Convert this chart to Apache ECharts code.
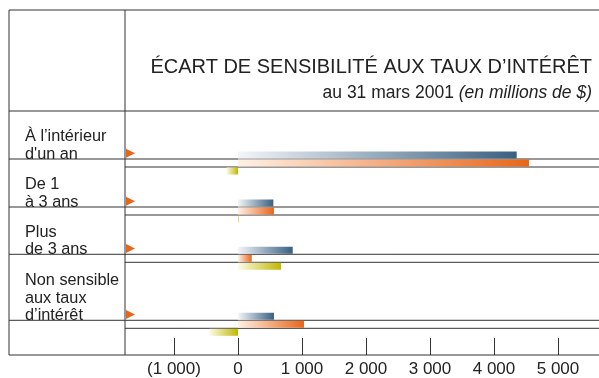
<!DOCTYPE html>
<html>
<head>
<meta charset="utf-8">
<script src="https://cdn.jsdelivr.net/npm/echarts@6/dist/echarts.min.js"></script>
<style>
    html, body { margin: 0; padding: 0; background: #fff; }
    #chart { width: 599px; height: 378px; }
</style>
</head>
<body>
<div id="chart"></div>
<script>
// data (millions de $)
const categories = ["À l’intérieur\nd'un an", "De 1\nà 3 ans", "Plus\nde 3 ans", "Non sensible\naux taux\nd’intérêt"];
const blueVals = [4355, 552, 855, 562];
const orangeVals = [4547, 562, 214, 1031];
const yellowVals = [-177, 8, 672, -448];
const tickValues = [-1000, 0, 1000, 2000, 3000, 4000, 5000];

const rowTops = [151, 199, 246.3, 312.3]; // top of each 3-bar block
const band = 8;
const xMin = -1765.6, xMax = 5640.6;
const font = "Liberation Sans, Arial, sans-serif";
const lineColor = "#333";

function grad(light, dark) {
    return new echarts.graphic.LinearGradient(0, 0, 1, 0, [
        { offset: 0, color: light },
        { offset: 1, color: dark }
    ]);
}

function fmt(v) {
    let s = String(Math.abs(v)).replace(/\B(?=(\d{3})+(?!\d))/g, " ");
    return v < 0 ? "(" + s + ")" : s;
}

let chart = echarts.init(document.getElementById("chart"));

let grids = [], xAxes = [], yAxes = [], series = [], graphics = [];

categories.forEach((cat, i) => {
    grids.push({ left: 125, right: 0, top: rowTops[i], height: band * 3 });
    xAxes.push({ type: "value", gridIndex: i, min: xMin, max: xMax, show: false });
    yAxes.push({ type: "category", gridIndex: i, inverse: true, show: false, data: ["a", "b", "c"] });
    series.push({
        type: "bar",
        xAxisIndex: i,
        yAxisIndex: i,
        barWidth: 7,
        silent: true,
        data: [
            { value: blueVals[i], itemStyle: { color: grad("#f3f5f8", "#3a6081") } },
            { value: orangeVals[i], itemStyle: { color: grad("#fff1e6", "#e8661a") } },
            { value: yellowVals[i], itemStyle: { color: grad("#fbfbe8", "#c2b700") } }
        ]
    });

    let y1 = rowTops[i] + band, y2 = rowTops[i] + band * 2;
    graphics.push({ type: "line", shape: { x1: 9, y1: y1, x2: 599, y2: y1 }, style: { stroke: lineColor, lineWidth: 1 } });
    graphics.push({ type: "line", shape: { x1: 125, y1: y2, x2: 599, y2: y2 }, style: { stroke: lineColor, lineWidth: 1 } });
    let cy = rowTops[i] + 2.2;
    graphics.push({ type: "polygon", shape: { points: [[126, cy - 4.5], [135, cy], [126, cy + 4.5]] }, style: { fill: "#e8661a" } });
    graphics.push({
        type: "text", x: 25, y: y1 + 4,
        style: { text: cat, font: "16.3px " + font, fill: "#222", lineHeight: 17.5, verticalAlign: "bottom" }
    });
});

// axis-only grid spanning the whole plot column
grids.push({ left: 125, right: 0, top: 10, bottom: 23 });
xAxes.push({
    type: "value", gridIndex: 4, min: xMin, max: xMax,
    axisLine: { show: false },
    splitLine: { show: false },
    axisTick: { show: true, inside: true, length: 17, customValues: tickValues, lineStyle: { color: lineColor, width: 1 } },
    axisLabel: { customValues: tickValues, margin: 6, color: "#222", fontSize: 17, fontFamily: font, formatter: fmt }
});
yAxes.push({ type: "category", gridIndex: 4, show: false, data: ["a"] });

// frame
[
    [9, 10, 599, 10], [9, 111, 599, 111], [9, 355, 599, 355],
    [9, 10, 9, 355], [125, 10, 125, 355]
].forEach(l => {
    graphics.push({ type: "line", shape: { x1: l[0], y1: l[1], x2: l[2], y2: l[3] }, style: { stroke: lineColor, lineWidth: 1 } });
});

graphics.push({
    type: "text", x: 592, y: 67,
    style: { text: "ÉCART DE SENSIBILITÉ AUX TAUX D’INTÉRÊT", font: "20px " + font, fill: "#222", align: "right", verticalAlign: "middle" }
});
graphics.push({
    type: "text", x: 592, y: 93,
    style: {
        text: "au 31 mars 2001 {i|(en millions de $)}",
        font: "17.5px " + font, fill: "#222", align: "right", verticalAlign: "middle",
        rich: { i: { fontStyle: "italic", fontSize: 17.5, fontFamily: font, fill: "#222" } }
    }
});

let option = {
    animation: false,
    grid: grids,
    xAxis: xAxes,
    yAxis: yAxes,
    series: series,
    graphic: { elements: graphics }
};

chart.setOption(option);
</script>
</body>
</html>
